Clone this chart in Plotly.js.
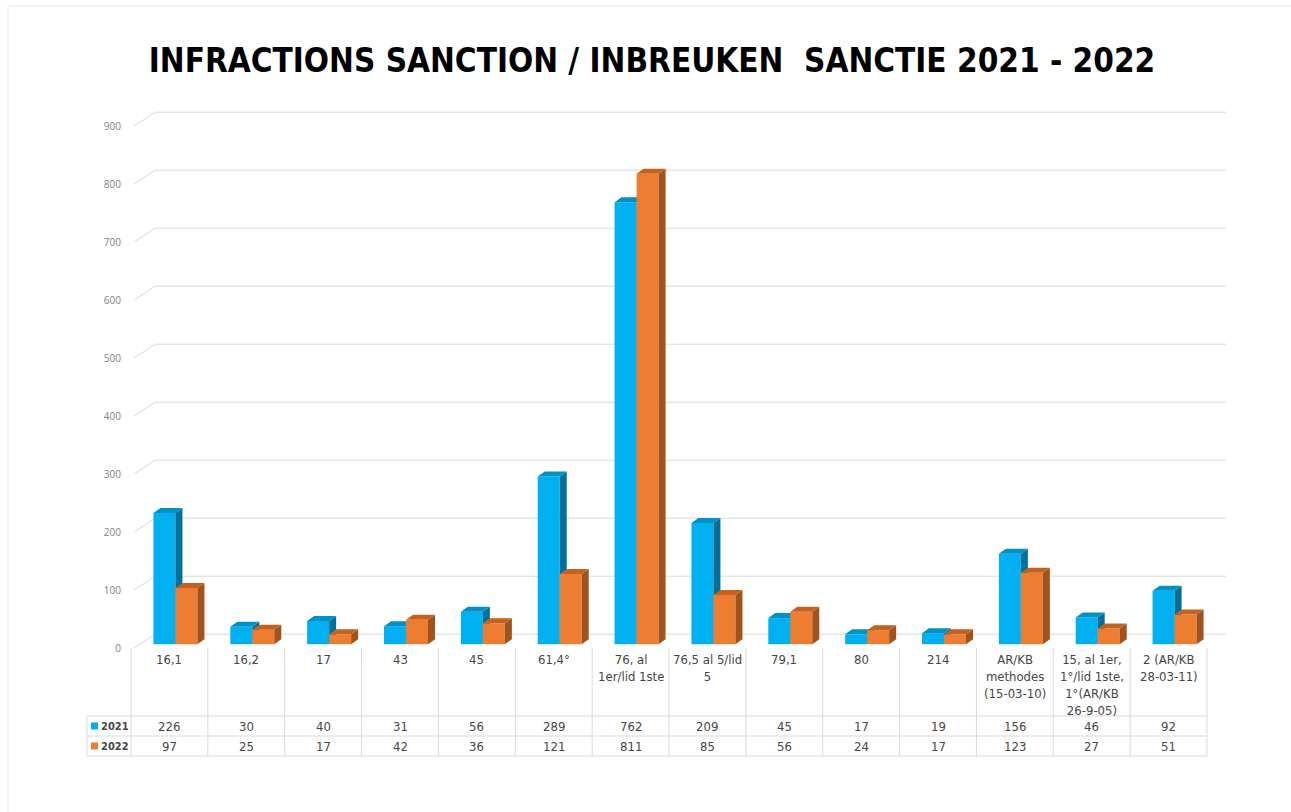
<!DOCTYPE html>
<html>
<head>
<meta charset="utf-8">
<script src="https://cdn.plot.ly/plotly-3.0.1.min.js"></script>
<style>html,body{margin:0;padding:0;background:#fff;}#chart{width:1291px;height:812px;}</style>
</head>
<body>
<div id="chart"></div>
<script>
// ---- data ----
const categories = ['16,1','16,2','17','43','45','61,4°','76, al<br>1er/lid 1ste','76,5 al 5/lid<br>5','79,1','80','214','AR/KB<br>methodes<br>(15-03-10)','15, al 1er,<br>1°/lid 1ste,<br>1°(AR/KB<br>26-9-05)','2 (AR/KB<br>28-03-11)'];
const seriesNames = ['2021','2022'];
const values2021 = [226,30,40,31,56,289,762,209,45,17,19,156,46,92];
const values2022 = [97,25,17,42,36,121,811,85,56,24,17,123,27,51];
const yTicks = [0,100,200,300,400,500,600,700,800,900];
const titleText = 'INFRACTIONS SANCTION / INBREUKEN  SANCTIE 2021 - 2022';

// ---- style / geometry ----
const W = 1291, H = 812;
const L = 131, R = 1207, T = 99, B = 650;
const YMIN = -10, YMAX = 940;
const px2x = px => (px - L) / (R - L);
const py2y = py => (B - py) / (B - T);
const unitPerPx = (YMAX - YMIN) / (B - T);
const catPx = (R - L) / categories.length;
const barW = 22 / catPx;
const shift = 6 / catPx;
const depthX = 7 / catPx;
const depthY = 5 * unitPerPx;
const front = ['#00B0F0', '#ED7D31'];
const side = ['#00709A', '#A1521D'];
const top_ = ['#0091C6', '#C3621F'];
const gridColor = '#D9D9D9';
const textColor = '#454545';
const FONT = 'DejaVu Sans Condensed, DejaVu Sans, sans-serif';

const xIdx = categories.map((c, i) => i);
const allVals = [values2021, values2022];
const offsets = [-barW + shift, shift];

const traces = [];
allVals.forEach((vals, s) => {
  const xa = s === 0 ? 'x' : 'x2', ya = s === 0 ? 'y' : 'y2';
  traces.push({
    type: 'bar', x: xIdx, y: vals, width: barW, offset: offsets[s],
    marker: {color: front[s], line: {width: 0}}, name: seriesNames[s],
    xaxis: xa, yaxis: ya, hoverinfo: 'y', showlegend: false
  });
  const sx = [], sy = [], tx = [], ty = [];
  vals.forEach((v, i) => {
    const x0 = i + offsets[s], x1 = x0 + barW;
    sx.push(x1, x1 + depthX, x1 + depthX, x1, x1, null);
    sy.push(0, depthY, v + depthY, v, 0, null);
    tx.push(x0, x0 + depthX, x1 + depthX, x1, x0, null);
    ty.push(v, v + depthY, v + depthY, v, v, null);
  });
  traces.push({type: 'scatter', mode: 'lines', x: sx, y: sy, fill: 'toself', fillcolor: side[s],
    line: {width: 0, color: side[s]}, xaxis: xa, yaxis: ya, hoverinfo: 'skip', showlegend: false});
  traces.push({type: 'scatter', mode: 'lines', x: tx, y: ty, fill: 'toself', fillcolor: top_[s],
    line: {width: 0, color: top_[s]}, xaxis: xa, yaxis: ya, hoverinfo: 'skip', showlegend: false});
});

const shapes = [];
// outer frame
shapes.push({type: 'rect', xref: 'paper', yref: 'paper', x0: px2x(8), x1: px2x(1320), y0: py2y(6), y1: py2y(840),
  line: {color: '#E8E8E8', width: 1}, fillcolor: 'rgba(0,0,0,0)', layer: 'below'});
// 3D gridlines: back wall + left wall diagonals
yTicks.forEach(v => {
  shapes.push({type: 'line', xref: 'paper', yref: 'y', ysizemode: 'pixel', yanchor: v,
    x0: px2x(155), x1: px2x(1226), y0: 10, y1: 10, line: {color: gridColor, width: 1}, layer: 'below'});
  shapes.push({type: 'line', xref: 'paper', yref: 'y', ysizemode: 'pixel', yanchor: v,
    x0: px2x(134), x1: px2x(155), y0: -4, y1: 10, line: {color: gridColor, width: 1}, layer: 'below'});
});
// data table lines
const tblTop = 648, row1 = 716, row2 = 736, row3 = 756, tblLeft = 87;
for (let j = 0; j <= categories.length; j++) {
  shapes.push({type: 'line', xref: 'paper', yref: 'paper', x0: j / categories.length, x1: j / categories.length,
    y0: py2y(tblTop), y1: py2y(row3), line: {color: gridColor, width: 1}});
}
shapes.push({type: 'line', xref: 'paper', yref: 'paper', x0: px2x(tblLeft), x1: px2x(tblLeft),
  y0: py2y(row1), y1: py2y(row3), line: {color: gridColor, width: 1}});
[row1, row2, row3].forEach(r => {
  shapes.push({type: 'line', xref: 'paper', yref: 'paper', x0: px2x(tblLeft), x1: 1,
    y0: py2y(r), y1: py2y(r), line: {color: gridColor, width: 1}});
});
// legend keys
const rowCenters = [726, 746];
rowCenters.forEach((c, s) => {
  shapes.push({type: 'rect', xref: 'paper', yref: 'paper', x0: px2x(91), x1: px2x(98),
    y0: py2y(c + 3.5), y1: py2y(c - 3.5), line: {width: 0}, fillcolor: front[s]});
});

const annotations = [];
const tFont = {family: FONT, size: 13, color: textColor};
categories.forEach((c, j) => {
  annotations.push({xref: 'x', yref: 'paper', x: j, y: py2y(650), yanchor: 'top', xanchor: 'center',
    text: c, showarrow: false, align: 'center', font: tFont});
  allVals.forEach((vals, s) => {
    annotations.push({xref: 'x', yref: 'paper', x: j, y: py2y(rowCenters[s]), yanchor: 'middle', xanchor: 'center',
      text: String(vals[j]), showarrow: false, font: tFont});
  });
});
seriesNames.forEach((n, s) => {
  annotations.push({xref: 'paper', yref: 'paper', x: px2x(99), y: py2y(rowCenters[s]), xanchor: 'left', yanchor: 'middle',
    text: n, showarrow: false, font: {family: FONT, size: 11, color: textColor, weight: 'bold'}});
});

const layout = {
  width: W, height: H,
  margin: {l: L, r: W - R, t: T, b: H - B, pad: 0},
  paper_bgcolor: '#FFFFFF', plot_bgcolor: 'rgba(0,0,0,0)',
  title: {text: titleText, x: px2x(652), xref: 'paper', xanchor: 'center', y: 1 - 60 / H, yref: 'container', yanchor: 'middle',
    font: {family: FONT, size: 33, color: '#000000', weight: 'bold'}},
  showlegend: false,
  barmode: 'overlay',
  xaxis: {range: [-0.5, categories.length - 0.5], visible: false, fixedrange: true},
  xaxis2: {range: [-0.5, categories.length - 0.5], visible: false, overlaying: 'x', fixedrange: true},
  yaxis: {range: [YMIN, YMAX], tickvals: yTicks, showgrid: false, zeroline: false, showline: false, ticks: '',
    tickfont: {family: 'Open Sans, sans-serif', size: 10, color: '#7F7F7F'}, ticklabelshift: 4, ticklabelstandoff: 9, fixedrange: true},
  yaxis2: {range: [YMIN, YMAX], overlaying: 'y', visible: false, fixedrange: true},
  shapes: shapes,
  annotations: annotations
};

Plotly.newPlot('chart', traces, layout, {displayModeBar: false, staticPlot: true});
</script>
</body>
</html>
